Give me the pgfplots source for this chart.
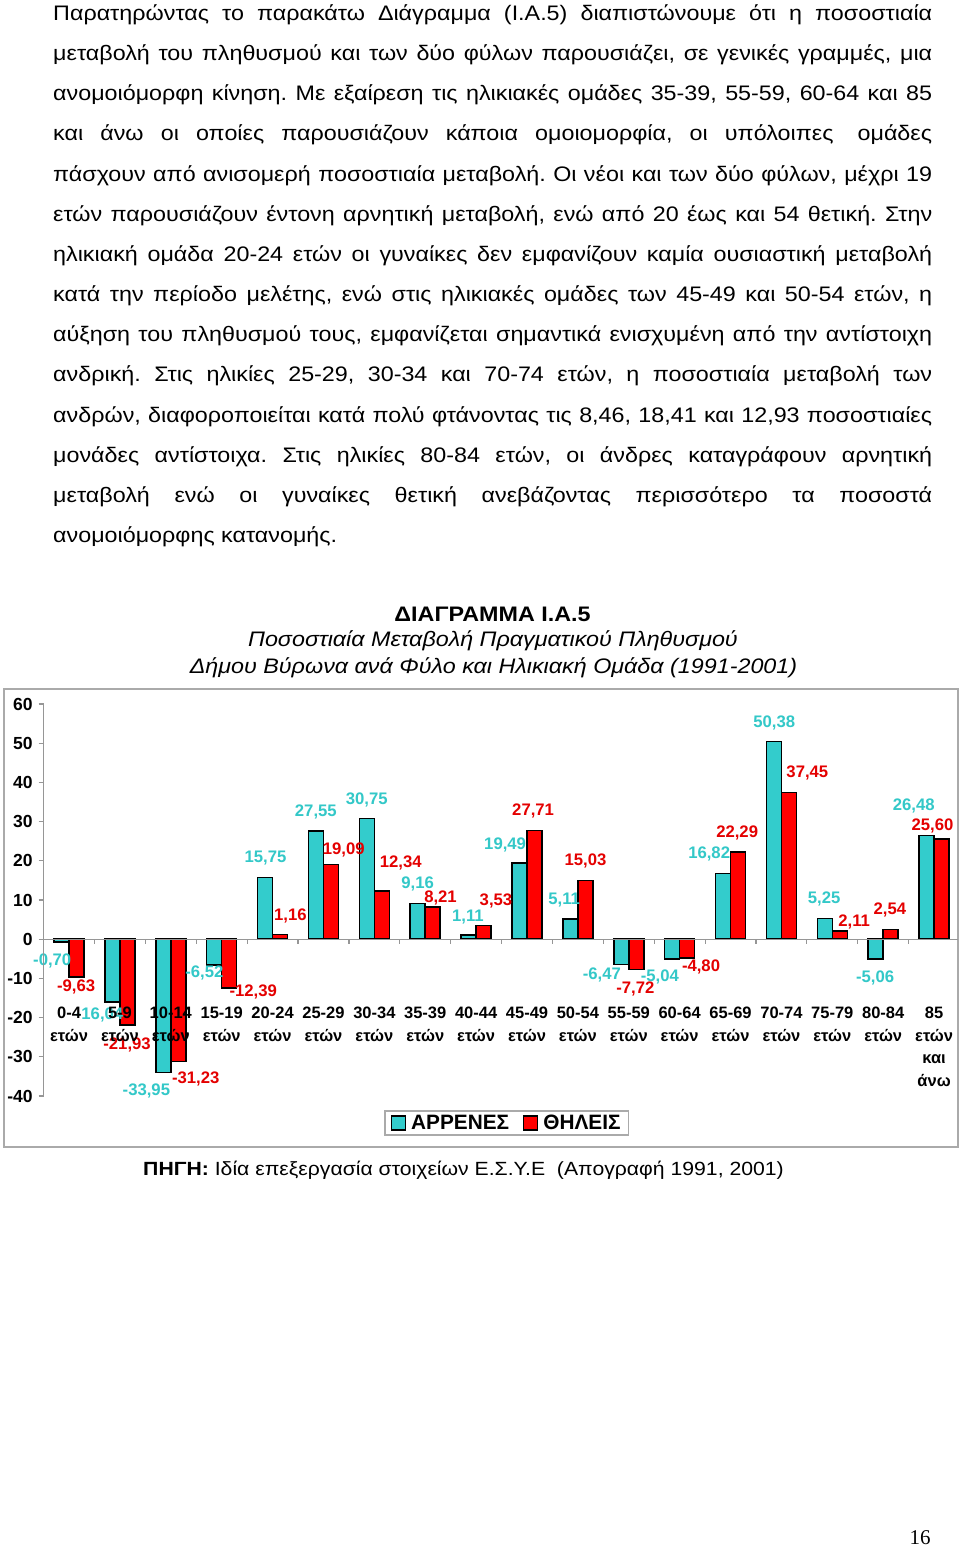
\documentclass[border=0pt]{standalone}
\usepackage{fontspec}
\setmainfont{Liberation Sans}
\newfontfamily\wide{Liberation Sans}[FakeStretch=1.11]
\newfontfamily\seriffont{Liberation Serif}
\usepackage{pgfplots}
\pgfplotsset{compat=1.18}
\frenchspacing
\definecolor{cy}{RGB}{51,204,204}
\definecolor{cyt}{RGB}{51,200,200}
\definecolor{rd}{RGB}{255,0,0}
\definecolor{rdt}{RGB}{228,0,0}
\definecolor{axg}{RGB}{150,150,150}
\definecolor{bord}{RGB}{170,170,170}
\newcommand{\pl}[1]{\makebox[879pt][s]{#1}}
\begin{document}
\begin{tikzpicture}
\path[fill=white] (0pt,0pt) rectangle (960pt,-1549pt);
% paragraph
\begin{scope}[every node/.style={anchor=base west, inner sep=0pt, font=\wide\fontsize{21}{21}\selectfont}]
\node at (53pt,-20.5pt) {\pl{Παρατηρώντας το παρακάτω Διάγραμμα (Ι.Α.5) διαπιστώνουμε ότι η ποσοστιαία}};
\node at (53pt,-60.65pt) {\pl{μεταβολή του πληθυσμού και των δύο φύλων παρουσιάζει, σε γενικές γραμμές, μια}};
\node at (53pt,-100.8pt) {\pl{ανομοιόμορφη κίνηση. Με εξαίρεση τις ηλικιακές ομάδες 35-39, 55-59, 60-64 και 85}};
\node at (53pt,-140.95pt) {\pl{και άνω οι οποίες παρουσιάζουν κάποια ομοιομορφία, οι υπόλοιπες\hspace{7pt} ομάδες}};
\node at (53pt,-181.1pt) {\pl{πάσχουν από ανισομερή ποσοστιαία μεταβολή. Οι νέοι και των δύο φύλων, μέχρι 19}};
\node at (53pt,-221.25pt) {\pl{ετών παρουσιάζουν έντονη αρνητική μεταβολή, ενώ από 20 έως και 54 θετική. Στην}};
\node at (53pt,-261.4pt) {\pl{ηλικιακή ομάδα 20-24 ετών οι γυναίκες δεν εμφανίζουν καμία ουσιαστική μεταβολή}};
\node at (53pt,-301.55pt) {\pl{κατά την περίοδο μελέτης, ενώ στις ηλικιακές ομάδες των 45-49 και 50-54 ετών, η}};
\node at (53pt,-341.7pt) {\pl{αύξηση του πληθυσμού τους, εμφανίζεται σημαντικά ενισχυμένη από την αντίστοιχη}};
\node at (53pt,-381.85pt) {\pl{ανδρική. Στις ηλικίες 25-29, 30-34 και 70-74 ετών, η ποσοστιαία μεταβολή των}};
\node at (53pt,-422pt) {\pl{ανδρών, διαφοροποιείται κατά πολύ φτάνοντας τις 8,46, 18,41 και 12,93 ποσοστιαίες}};
\node at (53pt,-462.15pt) {\pl{μονάδες αντίστοιχα. Στις ηλικίες 80-84 ετών, οι άνδρες καταγράφουν αρνητική}};
\node at (53pt,-502.3pt) {\pl{μεταβολή ενώ οι γυναίκες θετική ανεβάζοντας περισσότερο τα ποσοστά}};
\node at (53pt,-542.45pt) {ανομοιόμορφης κατανομής.};
\end{scope}
% titles
\node[anchor=center, inner sep=0pt, font=\wide\bfseries\fontsize{21}{21}\selectfont] at (492.5pt,-614pt) {ΔΙΑΓΡΑΜΜΑ Ι.Α.5};
\node[anchor=center, inner sep=0pt, font=\wide\itshape\fontsize{21}{21}\selectfont] at (493pt,-641pt) {Ποσοστιαία Μεταβολή Πραγματικού Πληθυσμού};
\node[anchor=center, inner sep=0pt, font=\wide\itshape\fontsize{21}{21}\selectfont] at (493.5pt,-668pt) {Δήμου Βύρωνα ανά Φύλο και Ηλικιακή Ομάδα (1991-2001)};
% chart border
\draw[bord, line width=1.3pt] (4pt,-689pt) rectangle (958pt,-1147pt);
\begin{axis}[
  at={(43.6pt,-1096pt)}, anchor=south west, scale only axis,
  width=914.4pt, height=392pt,
  xmin=-0.5, xmax=17.47, ymin=-40, ymax=60,
  clip=false, axis on top,
  axis y line*=left, axis x line*=middle,
  axis line style={axg, line width=1.2pt, -},
  ybar=0pt, bar width=15pt,
  xtick={0,...,17},
  xticklabels={{0-4\\ετών},{5-9\\ετών},{10-14\\ετών},{15-19\\ετών},{20-24\\ετών},{25-29\\ετών},{30-34\\ετών},{35-39\\ετών},{40-44\\ετών},{45-49\\ετών},{50-54\\ετών},{55-59\\ετών},{60-64\\ετών},{65-69\\ετών},{70-74\\ετών},{75-79\\ετών},{80-84\\ετών},{85\\ετών\\και\\άνω}},
  x tick style={draw=none},
  xticklabel style={font=\bfseries\fontsize{16.5}{22.5}\selectfont, align=center, anchor=north, yshift=-59.5pt},
  ytick={-40,-30,...,60},
  yticklabels={-40,-30,-20,-10,0,10,20,30,40,50,60},
  y tick style={axg, line width=1.2pt},
  tick align=outside, major tick length=5pt,
  yticklabel style={font=\bfseries\fontsize{17.5}{17.5}\selectfont, anchor=east, xshift=-2.5pt},
  legend style={at={(0.5065,-0.0689)}, anchor=center, draw=bord, line width=1.2pt,
    font=\bfseries\fontsize{20.8}{20.8}\selectfont, legend columns=2, inner xsep=6pt, inner ysep=2pt,
    /tikz/every odd column/.append style={column sep=3pt},
    /tikz/every even column/.append style={column sep=12pt}},
]
\addplot[fill=cy, draw=black, line width=1.5pt,
  legend image code/.code={\draw[fill=cy,draw=black,line width=1.2pt] (0pt,-7pt) rectangle (14pt,7pt);}]
 coordinates {(0,-0.70) (1,-16.04) (2,-33.95) (3,-6.52) (4,15.75) (5,27.55) (6,30.75) (7,9.16) (8,1.11) (9,19.49) (10,5.11) (11,-6.47) (12,-5.04) (13,16.82) (14,50.38) (15,5.25) (16,-5.06) (17,26.48)};
\addlegendentry{ΑΡΡΕΝΕΣ}
\addplot[fill=rd, draw=black, line width=1.5pt,
  legend image code/.code={\draw[fill=rd,draw=black,line width=1.2pt] (0pt,-7pt) rectangle (14pt,7pt);}]
 coordinates {(0,-9.63) (1,-21.93) (2,-31.23) (3,-12.39) (4,1.16) (5,19.09) (6,12.34) (7,8.21) (8,3.53) (9,27.71) (10,15.03) (11,-7.72) (12,-4.80) (13,22.29) (14,37.45) (15,2.11) (16,2.54) (17,25.60)};
\addlegendentry{ΘΗΛΕΙΣ}
\pgfplotsinvokeforeach{0.5,1.5,...,16.5}{\draw[axg, line width=1.2pt] (axis cs:#1,0) -- ++(0pt,-5pt);}
% data labels
\begin{scope}[every node/.style={inner sep=0pt, anchor=center, font=\bfseries\fontsize{16.7}{16.7}\selectfont}]
\node[cyt] at (axis cs:-0.33,-5.6) {-0,70};
\node[rdt] at (axis cs:0.14,-12.2) {-9,63};
\node[cyt] at (axis cs:0.60,-19.4) {-16,04};
\node[rdt] at (axis cs:1.14,-27.0) {-21,93};
\node[cyt] at (axis cs:1.52,-38.8) {-33,95};
\node[rdt] at (axis cs:2.49,-35.7) {-31,23};
\node[cyt] at (axis cs:2.66,-8.6) {-6,52};
\node[rdt] at (axis cs:3.62,-13.5) {-12,39};
\node[cyt] at (axis cs:3.86,20.7) {15,75};
\node[rdt] at (axis cs:4.35,5.9) {1,16};
\node[cyt] at (axis cs:4.85,32.4) {27,55};
\node[rdt] at (axis cs:5.40,22.7) {19,09};
\node[cyt] at (axis cs:5.85,35.5) {30,75};
\node[rdt] at (axis cs:6.52,19.4) {12,34};
\node[cyt] at (axis cs:6.85,14.0) {9,16};
\node[rdt] at (axis cs:7.30,10.6) {8,21};
\node[cyt] at (axis cs:7.84,5.7) {1,11};
\node[rdt] at (axis cs:8.39,9.7) {3,53};
\node[cyt] at (axis cs:8.57,24.0) {19,49};
\node[rdt] at (axis cs:9.12,32.7) {27,71};
\node[cyt] at (axis cs:9.73,10.0) {5,11};
\node[rdt] at (axis cs:10.15,19.9) {15,03};
\node[cyt] at (axis cs:10.47,-9.2) {-6,47};
\node[rdt] at (axis cs:11.13,-12.8) {-7,72};
\node[cyt] at (axis cs:11.61,-9.7) {-5,04};
\node[rdt] at (axis cs:12.42,-7.0) {-4,80};
\node[cyt] at (axis cs:12.58,21.7) {16,82};
\node[rdt] at (axis cs:13.13,27.1) {22,29};
\node[cyt] at (axis cs:13.86,55.1) {50,38};
\node[rdt] at (axis cs:14.51,42.3) {37,45};
\node[cyt] at (axis cs:14.84,10.2) {5,25};
\node[rdt] at (axis cs:15.43,4.4) {2,11};
\node[cyt] at (axis cs:15.84,-9.8) {-5,06};
\node[rdt] at (axis cs:16.13,7.4) {2,54};
\node[cyt] at (axis cs:16.60,33.9) {26,48};
\node[rdt] at (axis cs:16.97,28.8) {25,60};
\end{scope}
\end{axis}
% source
\node[anchor=base west, inner sep=0pt, font=\wide\fontsize{19.1}{19.1}\selectfont] at (143pt,-1175pt) {\textbf{ΠΗΓΗ:} Ιδία επεξεργασία στοιχείων Ε.Σ.Υ.Ε\ \ (Απογραφή 1991, 2001)};
% page number
\node[anchor=center, inner sep=0pt, font=\seriffont\fontsize{21}{21}\selectfont] at (920pt,-1538pt) {16};
\end{tikzpicture}
\end{document}
